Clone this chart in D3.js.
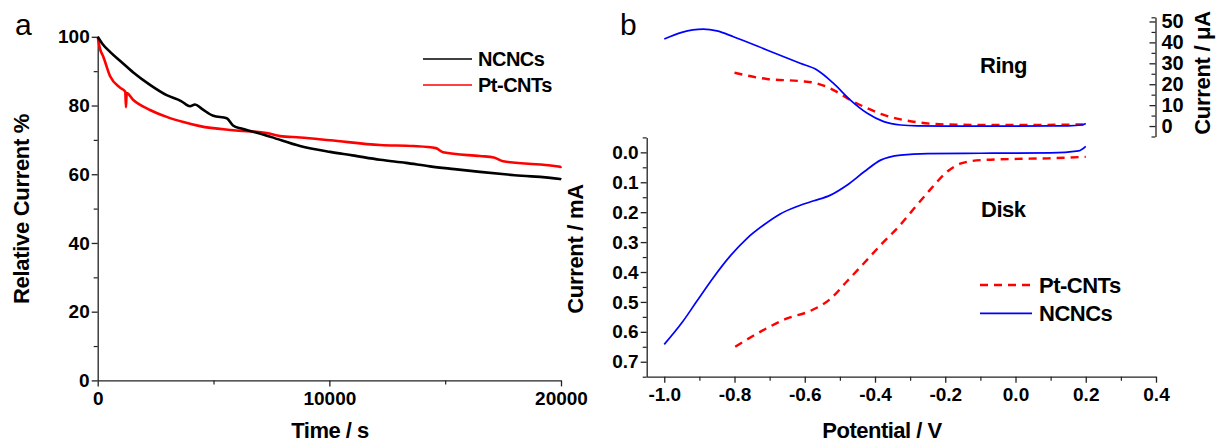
<!DOCTYPE html>
<html><head><meta charset="utf-8">
<script src="https://cdn.jsdelivr.net/npm/d3@7"></script>
<style>
html,body{margin:0;padding:0;background:#fff;}
text{font-family:"Liberation Sans",Arial,sans-serif;}
</style></head>
<body><svg id="c" width="1216" height="444"></svg>
<script>
// ---------- Panel a data ----------
const ncncsA_t = [0,200,533,1000,1537,2258,2978,3600,3984,4200,4500,4990,5570,5840,6200,6710,7500,8735,10035,11000,12190,13300,14345,15400,16500,18000,19960,20000];
const ncncsA_v = [100,98,95.6,92.8,89.6,86,83,81.3,79.8,80.3,79,77,76.3,74.2,73.3,72.4,70.8,68.2,66.5,65.5,64.2,63.3,62.3,61.5,60.7,59.7,58.6,58.4];
const ptA_t = [0,100,242,531,962,1190,1220,1250,1537,2258,2978,3700,4416,5850,7295,7875,8735,10035,12190,13625,14600,14910,16500,17100,17500,19960,20000];
const ptA_v = [100,96.5,94.2,88.6,85.2,84,79.5,83.6,81.6,78.7,76.7,75.2,74,72.8,72,71.1,70.7,69.9,68.5,68.2,67.6,66.4,65.3,64.9,63.8,62.2,61.8];
const xTicksA = [0,10000,20000];
const yTicksA = [0,20,40,60,80,100];

// ---------- Panel b data ----------
const ringNC_V = [-1.0,-0.95,-0.889,-0.85,-0.803,-0.708,-0.613,-0.565,-0.518,-0.47,-0.422,-0.375,-0.327,-0.28,-0.2,0.0,0.15,0.19,0.2];
const ringNC_I = [41.6,44.8,46.3,45.5,42.7,36.4,30,26.8,20.4,12.4,6.1,2.1,0.5,0.1,0,0,0.1,0.5,1.2];
const ringPt_V = [-0.8,-0.708,-0.613,-0.565,-0.518,-0.47,-0.422,-0.375,-0.327,-0.27,-0.23,-0.15,0.0,0.2];
const ringPt_I = [25.5,22.5,21.5,20.4,17.2,12.4,8.5,5.3,3.2,1.6,1.0,0.6,0.5,0.8];
const diskNC_V = [-1.0,-0.95,-0.907,-0.86,-0.812,-0.765,-0.717,-0.67,-0.622,-0.574,-0.527,-0.479,-0.431,-0.384,-0.327,-0.25,-0.1,0.1,0.18,0.2];
const diskNC_v = [0.642,0.57,0.497,0.418,0.346,0.288,0.243,0.206,0.181,0.162,0.143,0.109,0.065,0.026,0.009,0.004,0.003,0.002,-0.005,-0.02];
const diskPt_V = [-0.798,-0.727,-0.65,-0.584,-0.527,-0.479,-0.431,-0.384,-0.33,-0.289,-0.241,-0.193,-0.155,-0.098,-0.003,0.093,0.2];
const diskPt_v = [0.65,0.6,0.555,0.53,0.49,0.43,0.37,0.31,0.245,0.188,0.122,0.063,0.037,0.026,0.022,0.02,0.015];
const xTicksB = [-1.0,-0.8,-0.6,-0.4,-0.2,0.0,0.2,0.4];
const diskTicks = [0.0,0.1,0.2,0.3,0.4,0.5,0.6,0.7];
const ringTicks = [0,10,20,30,40,50];

const svg = d3.select("#c");
svg.append("rect").attr("width",1216).attr("height",444).attr("fill","#fff");

function styleAxis(g, fs){
  g.select(".domain").attr("stroke","#222").attr("stroke-width",1.3);
  g.selectAll(".tick line").attr("stroke","#222").attr("stroke-width",1.3);
  g.selectAll(".tick text").attr("font-family","'Liberation Sans',Arial,sans-serif")
    .attr("font-weight","bold").attr("font-size",fs).attr("fill","#000");
}
function minor(g){ g.select(".domain").remove(); g.selectAll(".tick line").attr("stroke","#222").attr("stroke-width",1.2); g.selectAll(".tick text").remove(); }

// ================= Panel a =================
const xA = d3.scaleLinear().domain([0,20000]).range([97.7,561]);
const yA = d3.scaleLinear().domain([0,100]).range([380.4,36.8]);

svg.append("g").attr("transform","translate(0,380.4)")
  .call(d3.axisBottom(xA).tickValues([5000,15000]).tickSize(4)).call(minor);
svg.append("g").attr("transform","translate(97.7,0)")
  .call(d3.axisLeft(yA).tickValues([10,30,50,70,90]).tickSize(4)).call(minor);
svg.append("g").attr("transform","translate(0,380.4)")
  .call(d3.axisBottom(xA).tickValues(xTicksA).tickFormat(d3.format("d")).tickSize(6).tickSizeOuter(0).tickPadding(5))
  .call(g=>styleAxis(g,19));
svg.append("g").attr("transform","translate(97.7,0)")
  .call(d3.axisLeft(yA).tickValues(yTicksA).tickSize(6).tickSizeOuter(0).tickPadding(2))
  .call(g=>styleAxis(g,19));

const lineA = (t,v)=>d3.line().x(i=>xA(t[i])).y(i=>yA(v[i])).curve(d3.curveMonotoneX)(d3.range(t.length));
svg.append("path").attr("d",lineA(ptA_t,ptA_v)).attr("fill","none").attr("stroke","#ff0000").attr("stroke-width",2.6);
svg.append("path").attr("d",lineA(ncncsA_t,ncncsA_v)).attr("fill","none").attr("stroke","#000").attr("stroke-width",2.6);

// legend a
const legA = [{n:"NCNCs",c:"#000",y:59},{n:"Pt-CNTs",c:"#ff0000",y:85}];
legA.forEach(d=>{
  svg.append("line").attr("x1",423).attr("x2",472).attr("y1",d.y).attr("y2",d.y).attr("stroke",d.c).attr("stroke-width",1.6);
  svg.append("text").attr("x",478).attr("y",d.y+7).attr("font-weight","bold").attr("font-size",20).attr("letter-spacing",-0.5).text(d.n);
});
svg.append("text").attr("x",330).attr("y",438).attr("text-anchor","middle").attr("font-weight","bold").attr("font-size",22).attr("letter-spacing",-0.5).text("Time / s");
svg.append("text").attr("transform","translate(29,209) rotate(-90)").attr("text-anchor","middle").attr("font-weight","bold").attr("font-size",22).attr("letter-spacing",-0.3).text("Relative Current %");
svg.append("text").attr("x",15).attr("y",35).attr("font-size",30).text("a");

// ================= Panel b =================
const xB = d3.scaleLinear().domain([-1.05,0.4]).range([646.7,1156]);
const yD = d3.scaleLinear().domain([-0.05,0.75]).range([137.4,376.7]);
const yR = d3.scaleLinear().domain([-5,52]).range([136.5,17.3]);

svg.append("g").attr("transform","translate(0,376.7)")
  .call(d3.axisBottom(xB).tickValues([-0.9,-0.7,-0.5,-0.3,-0.1,0.1,0.3]).tickSize(4)).call(minor);
svg.append("g").attr("transform","translate(646.7,0)")
  .call(d3.axisLeft(yD).tickValues([-0.05,0.05,0.15,0.25,0.35,0.45,0.55,0.65,0.75]).tickSize(4)).call(minor);
svg.append("g").attr("transform","translate(1155.5,0)")
  .call(d3.axisLeft(yR).tickValues([-5,5,15,25,35,45,52]).tickSize(4)).call(minor);

svg.append("g").attr("transform","translate(0,376.7)")
  .call(d3.axisBottom(xB).tickValues(xTicksB).tickFormat(d3.format(".1f")).tickSize(6).tickSizeOuter(0).tickPadding(5))
  .call(g=>styleAxis(g,19))
  .call(g=>g.selectAll(".tick text").text(d=>d3.format(".1f")(d).replace("−","-")));
svg.append("g").attr("transform","translate(646.7,0)")
  .call(d3.axisLeft(yD).tickValues(diskTicks).tickFormat(d3.format(".1f")).tickSize(6).tickSizeOuter(0).tickPadding(2))
  .call(g=>styleAxis(g,19));
svg.append("g").attr("transform","translate(1155.5,0)")
  .call(d3.axisLeft(yR).tickValues(ringTicks).tickSize(6).tickSizeOuter(0))
  .call(g=>styleAxis(g,20))
  .call(g=>g.selectAll(".tick text").attr("text-anchor","start").attr("x",6));

const lineV = (V,v,ys)=>d3.line().x(i=>xB(V[i])).y(i=>ys(v[i])).curve(d3.curveMonotoneX)(d3.range(V.length));
svg.append("path").attr("d",lineV(ringPt_V,ringPt_I,yR)).attr("fill","none").attr("stroke","#ff0000").attr("stroke-width",2.4).attr("stroke-dasharray","8,6");
svg.append("path").attr("d",lineV(ringNC_V,ringNC_I,yR)).attr("fill","none").attr("stroke","#0000ff").attr("stroke-width",1.7);
svg.append("path").attr("d",lineV(diskPt_V,diskPt_v,yD)).attr("fill","none").attr("stroke","#ff0000").attr("stroke-width",2.4).attr("stroke-dasharray","8,6");
svg.append("path").attr("d",lineV(diskNC_V,diskNC_v,yD)).attr("fill","none").attr("stroke","#0000ff").attr("stroke-width",1.7);

// legend b
const legB = [{n:"Pt-CNTs",c:"#ff0000",y:285,dash:"8,6",w:2.4},{n:"NCNCs",c:"#0000ff",y:313.3,dash:null,w:1.7}];
legB.forEach(d=>{
  const l = svg.append("line").attr("x1",980).attr("x2",1032).attr("y1",d.y).attr("y2",d.y).attr("stroke",d.c).attr("stroke-width",d.w);
  if(d.dash) l.attr("stroke-dasharray",d.dash);
  svg.append("text").attr("x",1039).attr("y",d.y+8).attr("font-weight","bold").attr("font-size",22).attr("letter-spacing",-0.5).text(d.n);
});
svg.append("text").attr("x",980).attr("y",73).attr("font-weight","bold").attr("font-size",22).attr("letter-spacing",-0.5).text("Ring");
svg.append("text").attr("x",981).attr("y",216.7).attr("font-weight","bold").attr("font-size",22).attr("letter-spacing",-0.5).text("Disk");
svg.append("text").attr("x",882).attr("y",438).attr("text-anchor","middle").attr("font-weight","bold").attr("font-size",22).attr("letter-spacing",-0.5).text("Potential / V");
svg.append("text").attr("transform","translate(583,249) rotate(-90)").attr("text-anchor","middle").attr("font-weight","bold").attr("font-size",22).attr("letter-spacing",-0.3).text("Current / mA");
svg.append("text").attr("transform","translate(1210,73) rotate(-90)").attr("text-anchor","middle").attr("font-weight","bold").attr("font-size",22).attr("letter-spacing",-0.3).text("Current / μA");
svg.append("text").attr("x",620).attr("y",35).attr("font-size",30).text("b");
</script></body></html>
